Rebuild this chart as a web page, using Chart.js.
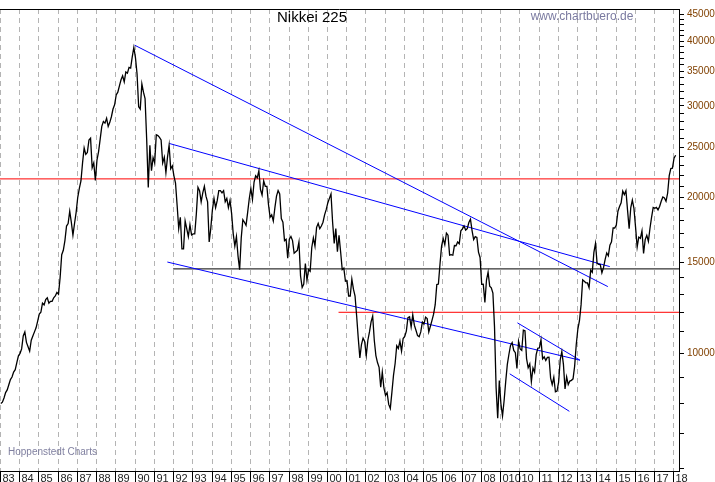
<!DOCTYPE html>
<html><head><meta charset="utf-8">
<script src="https://cdn.jsdelivr.net/npm/chart.js@4"></script>
<style>html,body{margin:0;padding:0;background:#fff}#c{display:block}</style>
</head><body>
<div style="width:715px;height:482px"><canvas id="c" width="715" height="482"></canvas></div>
<script>
const startYear = 1983;
const closes = [
8000,8050,8200,8400,8500,8700,8900,9000,9200,9300,9600,9890,
10000,10200,10800,11000,10500,10300,10100,10600,10800,11000,11200,11540,
11900,12000,12500,12400,12700,12800,12500,12600,12600,12800,12900,13110,
13000,14000,15500,15800,16500,17600,17800,18800,17900,16900,17800,18700,
20000,20800,21500,23300,24900,24200,24400,25800,26000,22800,23300,21560,
23600,24500,25900,27400,28000,27800,28400,27400,27900,28600,29600,30160,
31500,31900,32800,33700,34300,33400,34900,34700,35600,35500,37300,38900,
37200,34600,29900,29600,33100,31900,31000,25900,20900,25200,22500,23850,
23300,26400,26300,26100,25800,23300,23900,22300,23900,25200,22700,22980,
22000,21300,19300,17400,18300,15900,15900,18000,17400,16800,17700,16920,
17000,17000,18600,20900,20600,19600,20400,21000,20100,19600,16400,17420,
18900,19900,19100,19700,20600,20600,20400,20600,19600,19900,19100,19720,
18600,17000,16100,16800,15400,14500,16700,18100,17900,17650,18700,19870,
20800,19800,21400,22000,21800,22500,20700,20200,21500,21000,21000,19360,
18300,18500,18000,19100,20100,20600,20300,18200,17900,16500,16600,15260,
16600,16800,16500,15600,15700,15800,16400,14100,13400,13600,14900,13840,
14500,14400,16000,16700,16100,17500,17800,17400,17600,17900,18500,18930,
19500,19900,20300,17900,16300,17400,15700,16900,15700,14500,14600,13780,
13800,12900,12900,13900,13300,12900,11800,10700,9800,10400,10700,10540,
9900,10600,11000,11500,11800,10600,9900,9600,9400,8600,9200,8580,
8300,8400,7970,7830,8420,9080,9560,10340,10220,10560,10100,10680,
10780,11040,11720,11760,11240,11860,11330,11080,10820,10770,11000,11490,
11390,11740,11670,11000,11280,11580,11900,12410,13570,13600,14870,16110,
16650,16200,17060,16900,15470,15500,15460,16140,16130,16400,16270,17230,
17380,17600,17290,17400,17880,18140,17250,16570,16790,16740,15680,15310,
13590,13600,12530,13850,14340,13480,13380,13070,11260,8580,7500,8860,
7990,7570,8110,8830,9520,9960,10360,10490,10130,10030,9350,10550,
10200,10130,11090,11060,9770,9380,9540,8820,9370,9200,9940,10230,
10240,10620,9760,9850,9690,9820,9830,8960,8700,8990,8430,8460,
8800,9720,10080,9520,8540,9010,8700,8840,8870,8930,9450,10400,
11140,11560,12400,13860,13770,13680,13670,13390,14460,14330,15660,16290,
14910,14840,14830,14300,14630,15160,15620,15420,16170,16410,17460,17450,
17670,18800,19200,19520,20560,20240,20590,18890,17390,19080,19750,19030,
17520,16030,16760,16670,17230,15580,16570,16890,16450,17430,18310,19110,
19040,19120,18910,19200,19650,20030,19930,19650,20360,22010,22720,22760,
23800,24100
];
const yearLabels = ["83","84","85","86","87","88","89","90","91","92","93","94","95","96","97","98","99","00","01","02","03","04","05","06","07","08","010","10","11","12","13","14","15","16","17","18"];
const blueLines = [
  [[1990.0,39300],[2014.6,13450]],
  [[1991.8,25400],[2014.7,14700]],
  [[1991.7,15000],[2013.15,9700]],
  [[2009.9,11450],[2013.15,9700]],
  [[2009.5,9130],[2012.6,7730]]
];
const redLines = [
  [[1983,21700],[2018.3,21700]],
  [[2000.6,12000],[2018.3,12000]]
];
const blackLines = [
  [[1992.0,14550],[2018.3,14550]]
];

const pts = closes.map((v,i)=>({x:startYear+(i+0.5)/12, y:v}));
const mk = (seg,color)=>({data:seg.map(p=>({x:p[0],y:p[1]})),borderColor:color,borderWidth:1,pointRadius:0,fill:false,tension:0});
const datasets = [{data:pts,borderColor:'#000',borderWidth:1.3,pointRadius:0,tension:0}]
  .concat(blueLines.map(s=>mk(s,'#0000ff')))
  .concat(redLines.map(s=>mk(s,'#ff0000')))
  .concat(blackLines.map(s=>mk(s,'#000')));

const deco = {
  id:'deco',
  beforeDatasetsDraw(chart){
    const {ctx, chartArea:a, scales:{x}} = chart;
    ctx.save();
    ctx.strokeStyle='#b4b4b4'; ctx.lineWidth=1; ctx.setLineDash([5,4]);
    yearLabels.forEach((l,i)=>{
      const px = Math.round(x.getPixelForValue(startYear+i))+0.5;
      ctx.beginPath(); ctx.moveTo(px,a.top); ctx.lineTo(px,a.bottom); ctx.stroke();
    });
    ctx.restore();
  },
  afterDraw(chart){
    const {ctx, chartArea:a, scales:{x}} = chart;
    ctx.save();
    ctx.strokeStyle='#000'; ctx.lineWidth=1;
    ctx.beginPath(); ctx.moveTo(a.left,a.top+0.5); ctx.lineTo(a.right,a.top+0.5); ctx.stroke();
    ctx.beginPath(); ctx.moveTo(a.left,a.bottom+0.5); ctx.lineTo(a.right,a.bottom+0.5); ctx.stroke();
    ctx.font='11px Arial'; ctx.fillStyle='#222'; ctx.textBaseline='top'; ctx.textAlign='left';
    yearLabels.forEach((l,i)=>{
      const px = Math.round(x.getPixelForValue(startYear+i))+0.5;
      ctx.beginPath(); ctx.moveTo(px,a.bottom); ctx.lineTo(px,482); ctx.stroke();
      ctx.fillText(l,px+2,a.bottom+2);
    });
    ctx.font='15px Arial'; ctx.fillStyle='#000'; ctx.textAlign='center'; ctx.textBaseline='middle';
    ctx.fillText('Nikkei 225',312,18);
    ctx.font='12px Arial'; ctx.fillStyle='#7a7aa0';
    ctx.fillText('www.chartbuero.de',582,17);
    ctx.font='10px Arial'; ctx.fillStyle='#8080a0'; ctx.textAlign='left';
    ctx.fillText('Hoppenstedt Charts',8,452);
    ctx.restore();
  }
};

new Chart(document.getElementById('c'),{
  type:'line',
  data:{datasets},
  plugins:[deco],
  options:{
    responsive:false,animation:false,
    layout:{padding:{left:0,top:0,right:0,bottom:0}},
    plugins:{legend:{display:false},tooltip:{enabled:false}},
    scales:{
      x:{type:'linear',min:1983,max:2018.3,
        ticks:{display:false},
        grid:{display:false},
        border:{display:false},
        afterFit(s){s.height=11;}
      },
      y:{type:'logarithmic',position:'right',min:5930,max:46150,
        afterBuildTicks(s){const t=[];for(let v=6000;v<=45000;v+=1000)t.push({value:v});s.ticks=t;},
        ticks:{autoSkip:false,color:'#804000',font:{size:10,family:'Arial'},padding:3,
          callback:(v)=> (v%5000===0 && v>=10000)? String(v):''},
        grid:{drawOnChartArea:false,color:'#000',tickLength:5},
        border:{display:true,color:'#000'},
        afterFit(s){s.width=36;}
      }
    }
  }
});
</script>
</body></html>
